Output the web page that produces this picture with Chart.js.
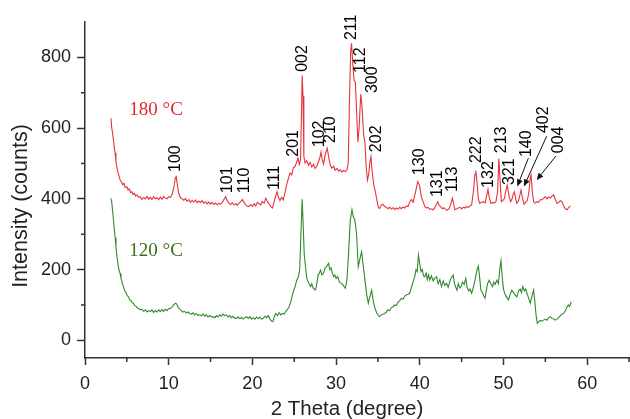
<!DOCTYPE html>
<html>
<head>
<meta charset="utf-8">
<script src="https://cdn.jsdelivr.net/npm/chart.js@4/dist/chart.umd.min.js"></script>
<style>
html,body{margin:0;padding:0;background:#fff;}
#wrap{width:630px;height:419px;}
</style>
</head>
<body>
<div id="wrap"><canvas id="c" width="630" height="419"></canvas></div>
<script>
// ---- DATA ----
const xTickValues = [0, 10, 20, 30, 40, 50, 60];
const yTickValues = [0, 200, 400, 600, 800];
const xMinorValues = [5, 15, 25, 35, 45, 55, 65];
const yMinorValues = [100, 300, 500, 700];
const xTitle = '2 Theta (degree)';
const yTitle = 'Intensity (counts)';

// 180 °C pattern [2θ, counts]
const red180 = [
[3.10,628],[3.20,600],[3.30,585],[3.40,566],[3.50,545],[3.60,530],[3.70,505],[3.80,491],[3.90,478],[4.00,470],
[4.10,462],[4.20,453],[4.35,448],[4.50,440],[4.65,444],[4.80,432],[5.00,434],[5.15,425],[5.30,428],[5.45,418],
[5.60,420],[5.75,412],[5.90,416],[6.05,408],[6.20,411],[6.40,404],[6.60,406],[6.80,398],[7.00,404],[7.20,400],
[7.40,407],[7.60,399],[7.80,405],[8.00,398],[8.20,406],[8.40,400],[8.60,403],[8.80,397],[9.00,405],[9.20,399],
[9.40,407],[9.60,402],[9.80,400],[10.00,406],[10.20,404],[10.40,412],[10.60,430],[10.80,460],[10.90,463],[11.00,445],
[11.20,415],[11.40,403],[11.60,400],[11.80,396],[12.00,401],[12.20,393],[12.40,398],[12.60,390],[12.80,396],[13.00,391],
[13.20,397],[13.40,389],[13.60,394],[13.80,390],[14.00,395],[14.20,388],[14.40,392],[14.60,386],[14.80,391],[15.00,385],
[15.20,390],[15.40,384],[15.60,388],[15.80,383],[16.00,387],[16.20,385],[16.40,390],[16.60,398],[16.80,406],[17.00,395],
[17.20,388],[17.40,384],[17.60,389],[17.80,383],[18.00,386],[18.20,382],[18.40,388],[18.60,392],[18.80,398],[19.00,390],
[19.20,383],[19.40,380],[19.60,378],[19.80,384],[20.00,379],[20.20,386],[20.40,380],[20.60,390],[20.80,386],[21.00,383],
[21.20,392],[21.40,388],[21.60,402],[21.80,392],[22.00,386],[22.20,378],[22.40,374],[22.60,392],[22.80,410],[22.95,420],
[23.10,405],[23.30,395],[23.50,404],[23.70,397],[23.90,418],[24.10,440],[24.30,458],[24.50,473],[24.70,468],[24.90,488],
[25.10,491],[25.30,505],[25.45,515],[25.60,497],[25.75,510],[25.85,620],[25.95,749],[26.05,690],[26.15,520],[26.30,501],
[26.50,508],[26.70,495],[26.90,503],[27.10,490],[27.30,498],[27.50,486],[27.70,492],[27.90,505],[28.10,520],[28.20,532],
[28.35,510],[28.50,498],[28.70,525],[28.95,543],[29.10,520],[29.30,495],[29.50,487],[29.70,492],[29.90,481],[30.10,486],
[30.30,478],[30.50,482],[30.70,476],[30.90,480],[31.10,477],[31.30,482],[31.45,500],[31.60,680],[31.75,820],[31.85,840],
[32.00,780],[32.15,736],[32.30,730],[32.45,650],[32.60,561],[32.75,600],[32.95,696],[33.10,660],[33.30,580],[33.45,558],
[33.60,490],[33.75,453],[33.90,470],[34.05,505],[34.17,519],[34.30,480],[34.50,440],[34.65,425],[34.85,400],[35.05,375],
[35.20,373],[35.40,382],[35.60,385],[35.80,378],[36.00,376],[36.20,372],[36.40,376],[36.60,371],[36.80,375],[37.00,370],
[37.20,374],[37.40,371],[37.60,376],[37.80,372],[38.00,377],[38.20,374],[38.40,380],[38.60,378],[38.80,392],[39.00,398],
[39.20,390],[39.50,420],[39.75,449],[39.95,440],[40.20,405],[40.40,392],[40.60,378],[40.80,374],[41.00,376],[41.20,370],
[41.40,372],[41.60,369],[41.80,375],[42.00,385],[42.15,392],[42.30,382],[42.50,378],[42.70,372],[42.90,375],[43.10,369],
[43.30,368],[43.50,372],[43.70,385],[43.90,402],[44.05,385],[44.20,369],[44.40,371],[44.60,374],[44.80,376],[45.00,372],
[45.20,376],[45.40,374],[45.60,378],[45.80,376],[46.00,380],[46.20,383],[46.40,420],[46.60,470],[46.70,480],[46.85,445],
[47.00,400],[47.15,387],[47.35,390],[47.60,392],[47.80,388],[48.00,410],[48.15,427],[48.30,405],[48.50,387],[48.70,390],
[48.90,388],[49.10,392],[49.30,420],[49.45,514],[49.60,450],[49.75,392],[49.90,395],[50.10,400],[50.30,425],[50.45,439],
[50.65,410],[50.85,392],[51.00,398],[51.15,412],[51.30,420],[51.45,400],[51.60,387],[51.80,395],[51.95,410],[52.10,425],
[52.25,405],[52.45,385],[52.65,390],[52.85,395],[53.05,420],[53.20,460],[53.30,468],[53.45,420],[53.60,392],[53.80,388],
[54.00,392],[54.20,390],[54.40,398],[54.60,397],[54.80,402],[55.00,406],[55.20,400],[55.40,405],[55.60,402],[55.80,408],
[56.00,411],[56.20,398],[56.40,387],[56.60,390],[56.80,395],[57.00,392],[57.20,380],[57.40,372],[57.60,369],[57.80,376],
[58.00,380]
];

// 120 °C pattern [2θ, counts]
const green120 = [
[3.10,401],[3.20,390],[3.30,365],[3.40,340],[3.50,315],[3.60,290],[3.70,265],[3.80,240],[3.90,222],[4.00,206],
[4.10,196],[4.20,189],[4.30,175],[4.40,168],[4.50,158],[4.60,152],[4.75,140],[4.90,135],[5.05,126],[5.20,123],
[5.35,114],[5.50,112],[5.65,106],[5.80,105],[5.95,98],[6.10,96],[6.25,92],[6.40,90],[6.60,86],[6.80,88],
[7.00,82],[7.20,86],[7.40,80],[7.60,84],[7.80,81],[8.00,86],[8.20,79],[8.40,84],[8.60,80],[8.80,86],
[9.00,81],[9.20,87],[9.40,82],[9.60,88],[9.80,84],[10.00,90],[10.20,90],[10.40,94],[10.60,100],[10.80,105],
[10.95,103],[11.10,94],[11.30,88],[11.50,84],[11.70,80],[11.90,82],[12.10,77],[12.30,80],[12.50,76],[12.70,74],
[12.90,78],[13.10,72],[13.30,76],[13.50,70],[13.70,72],[13.90,69],[14.10,74],[14.30,68],[14.50,72],[14.70,66],
[14.90,70],[15.10,66],[15.30,67],[15.50,64],[15.70,70],[15.90,66],[16.10,72],[16.30,68],[16.50,74],[16.70,70],
[16.90,72],[17.10,66],[17.30,70],[17.50,64],[17.70,68],[17.90,62],[18.10,62],[18.30,66],[18.50,61],[18.70,65],
[18.90,60],[19.10,64],[19.30,67],[19.50,62],[19.70,67],[19.90,60],[20.10,64],[20.30,60],[20.50,66],[20.70,61],
[20.90,65],[21.10,60],[21.30,62],[21.50,68],[21.70,64],[21.90,70],[22.10,60],[22.30,54],[22.45,53],[22.60,66],
[22.80,76],[23.00,70],[23.20,78],[23.40,72],[23.60,76],[23.80,74],[24.00,82],[24.20,88],[24.40,95],[24.60,110],
[24.80,130],[25.00,145],[25.10,152],[25.30,170],[25.50,180],[25.65,200],[25.80,300],[25.95,399],[26.05,340],[26.20,240],
[26.35,208],[26.50,175],[26.65,166],[26.80,158],[26.95,152],[27.10,160],[27.25,148],[27.40,145],[27.55,142],[27.70,160],
[27.85,185],[28.00,190],[28.15,199],[28.30,185],[28.50,190],[28.70,205],[28.90,210],[29.10,218],[29.25,200],[29.40,205],
[29.55,190],[29.70,180],[29.85,185],[30.00,175],[30.20,180],[30.40,165],[30.60,161],[30.80,158],[31.00,150],[31.10,147],
[31.30,170],[31.50,250],[31.70,340],[31.90,370],[32.05,350],[32.25,340],[32.45,300],[32.65,208],[32.85,230],[33.05,250],
[33.25,210],[33.45,170],[33.65,130],[33.85,105],[34.05,125],[34.25,142],[34.45,110],[34.65,90],[34.85,78],[35.05,70],
[35.20,67],[35.40,72],[35.60,74],[35.80,76],[36.00,80],[36.20,86],[36.40,84],[36.60,92],[36.80,95],[37.00,100],
[37.20,98],[37.40,108],[37.60,112],[37.80,119],[38.00,116],[38.20,125],[38.40,128],[38.60,130],[38.80,133],[39.00,150],
[39.20,165],[39.40,180],[39.55,200],[39.70,195],[39.85,241],[40.00,215],[40.15,194],[40.30,200],[40.45,182],[40.60,180],
[40.75,190],[40.90,172],[41.05,185],[41.20,170],[41.40,182],[41.60,168],[41.80,176],[42.00,180],[42.20,160],[42.40,172],
[42.60,152],[42.80,168],[43.00,155],[43.20,161],[43.40,150],[43.60,168],[43.80,178],[44.00,185],[44.15,160],[44.30,150],
[44.45,142],[44.60,160],[44.80,148],[44.95,152],[45.10,165],[45.30,158],[45.50,175],[45.65,150],[45.85,140],[46.00,145],
[46.20,133],[46.40,150],[46.60,170],[46.85,200],[47.00,210],[47.15,180],[47.30,142],[47.50,135],[47.65,125],[47.80,119],
[47.95,140],[48.10,160],[48.30,170],[48.50,160],[48.70,152],[48.85,165],[49.00,158],[49.20,170],[49.40,160],[49.55,200],
[49.70,225],[49.85,180],[50.00,145],[50.15,133],[50.30,125],[50.45,120],[50.60,114],[50.80,130],[51.00,142],[51.20,135],
[51.40,128],[51.60,123],[51.80,140],[52.00,145],[52.15,135],[52.30,152],[52.50,140],[52.65,145],[52.80,133],[53.00,120],
[53.20,105],[53.40,125],[53.60,142],[53.75,110],[53.90,70],[54.05,48],[54.20,52],[54.40,56],[54.60,54],[54.80,57],
[55.00,60],[55.20,57],[55.40,64],[55.60,67],[55.80,62],[56.00,60],[56.20,57],[56.40,60],[56.60,65],[56.80,70],
[57.00,74],[57.20,76],[57.40,84],[57.60,95],[57.75,100],[57.90,96],[58.10,109]
];

// Miller-index peak labels: name, 2θ of label centre, counts at label foot
const peakNames = ['100','101','110','111','201','002','102','210','211','112','300','202','130','131','113','222','132','213','321','140','402','004'];
const peakTheta = [10.87,17.0,19.1,22.6,24.97,26.0,28.08,29.36,31.86,32.97,34.4,34.9,39.94,42.17,43.97,46.8,48.27,49.78,50.78,52.77,54.76,56.55];
const peakFoot  = [476,416,416,425,519,759,546,558,849,756,699,532,467,405,419,501,431,529,439,518,586,529];

// Arrows from labels to peaks: [fromθ, fromCounts, toθ, toCounts]
const arrows = [
  [52.97, 515, 51.65, 435],
  [55.16, 577, 52.44, 435],
  [56.27, 521, 53.96, 453]
];

// Series labels: text, θ, counts (baseline), colour
const seriesLabels = [
  ['180 \u00B0C', 5.3, 637, '#e4262c'],
  ['120 \u00B0C', 5.3, 238, '#3c6e1c']
];

// ---- CHART ----
const sans = '"Liberation Sans", Arial, sans-serif';
const overlay = {
  id: 'overlay',
  afterDraw(chart) {
    const {ctx, scales: {x, y}} = chart;
    ctx.save();
    // minor ticks
    ctx.strokeStyle = '#333';
    ctx.lineWidth = 1.5;
    xMinorValues.forEach(v => {
      const px = x.getPixelForValue(v);
      ctx.beginPath(); ctx.moveTo(px, x.top); ctx.lineTo(px, x.top + 4); ctx.stroke();
    });
    yMinorValues.forEach(v => {
      const py = y.getPixelForValue(v);
      ctx.beginPath(); ctx.moveTo(y.right, py); ctx.lineTo(y.right - 4, py); ctx.stroke();
    });
    // axis titles
    ctx.fillStyle = '#222';
    ctx.font = '20.5px ' + sans;
    ctx.textAlign = 'center';
    ctx.textBaseline = 'alphabetic';
    ctx.fillText(xTitle, 347, 415);
    ctx.save();
    ctx.translate(27, 206);
    ctx.rotate(-Math.PI / 2);
    ctx.font = '21.5px ' + sans;
    ctx.fillText(yTitle, 0, 0);
    ctx.restore();
    // series labels
    ctx.font = '19px "Liberation Serif", "Times New Roman", serif';
    ctx.textAlign = 'left';
    ctx.textBaseline = 'alphabetic';
    seriesLabels.forEach(([t, tx, ty, col]) => {
      ctx.fillStyle = col;
      ctx.fillText(t, x.getPixelForValue(tx), y.getPixelForValue(ty));
    });
    // peak labels
    ctx.fillStyle = '#000';
    ctx.font = '16px ' + sans;
    ctx.textAlign = 'left';
    ctx.textBaseline = 'middle';
    peakNames.forEach((name, i) => {
      const px = x.getPixelForValue(peakTheta[i]);
      const py = y.getPixelForValue(peakFoot[i]);
      ctx.save();
      ctx.translate(px, py);
      ctx.rotate(-Math.PI / 2);
      ctx.fillText(name, 0, 0);
      ctx.restore();
    });
    // arrows
    ctx.strokeStyle = '#111';
    ctx.fillStyle = '#111';
    ctx.lineWidth = 1;
    arrows.forEach(([a, b, c, d]) => {
      const x0 = x.getPixelForValue(a), y0 = y.getPixelForValue(b);
      const x1 = x.getPixelForValue(c), y1 = y.getPixelForValue(d);
      const ang = Math.atan2(y1 - y0, x1 - x0);
      const L = 7, W = 3;
      ctx.beginPath(); ctx.moveTo(x0, y0); ctx.lineTo(x1 - L * 0.8 * Math.cos(ang), y1 - L * 0.8 * Math.sin(ang)); ctx.stroke();
      ctx.beginPath();
      ctx.moveTo(x1, y1);
      ctx.lineTo(x1 - L * Math.cos(ang) + W * Math.sin(ang), y1 - L * Math.sin(ang) - W * Math.cos(ang));
      ctx.lineTo(x1 - L * Math.cos(ang) - W * Math.sin(ang), y1 - L * Math.sin(ang) + W * Math.cos(ang));
      ctx.closePath(); ctx.fill();
    });
    ctx.restore();
  }
};

const tickFont = {family: sans, size: 18};

new Chart(document.getElementById('c'), {
  type: 'scatter',
  data: {
    datasets: [
      {label: '180 °C', data: red180.map(([a, b]) => ({x: a, y: b})), showLine: true, borderColor: '#e8333a', borderWidth: 1.1, pointRadius: 0, tension: 0},
      {label: '120 °C', data: green120.map(([a, b]) => ({x: a, y: b})), showLine: true, borderColor: '#2f8a2a', borderWidth: 1.1, pointRadius: 0, tension: 0}
    ]
  },
  options: {
    responsive: false,
    animation: false,
    devicePixelRatio: 1,
    layout: {padding: {left: 0, top: 22, right: 1, bottom: 0}},
    plugins: {legend: {display: false}, tooltip: {enabled: false}},
    scales: {
      x: {
        type: 'linear', min: 0, max: 65,
        afterBuildTicks: s => { s.ticks = xTickValues.map(v => ({value: v})); },
        afterFit: s => { s.height = 61; },
        ticks: {font: tickFont, color: '#222', padding: 8, maxRotation: 0},
        grid: {display: true, drawOnChartArea: false, drawTicks: true, tickLength: 7, tickColor: '#333', tickWidth: 1.5},
        border: {display: true, color: '#333', width: 1.5}
      },
      y: {
        type: 'linear', min: -50, max: 900,
        afterBuildTicks: s => { s.ticks = yTickValues.map(v => ({value: v})); },
        afterFit: s => { s.width = 85; },
        ticks: {font: tickFont, color: '#222', padding: 6},
        grid: {display: true, drawOnChartArea: false, drawTicks: true, tickLength: 8, tickColor: '#333', tickWidth: 1.5},
        border: {display: true, color: '#333', width: 1.5}
      }
    }
  },
  plugins: [overlay]
});
</script>
</body>
</html>
